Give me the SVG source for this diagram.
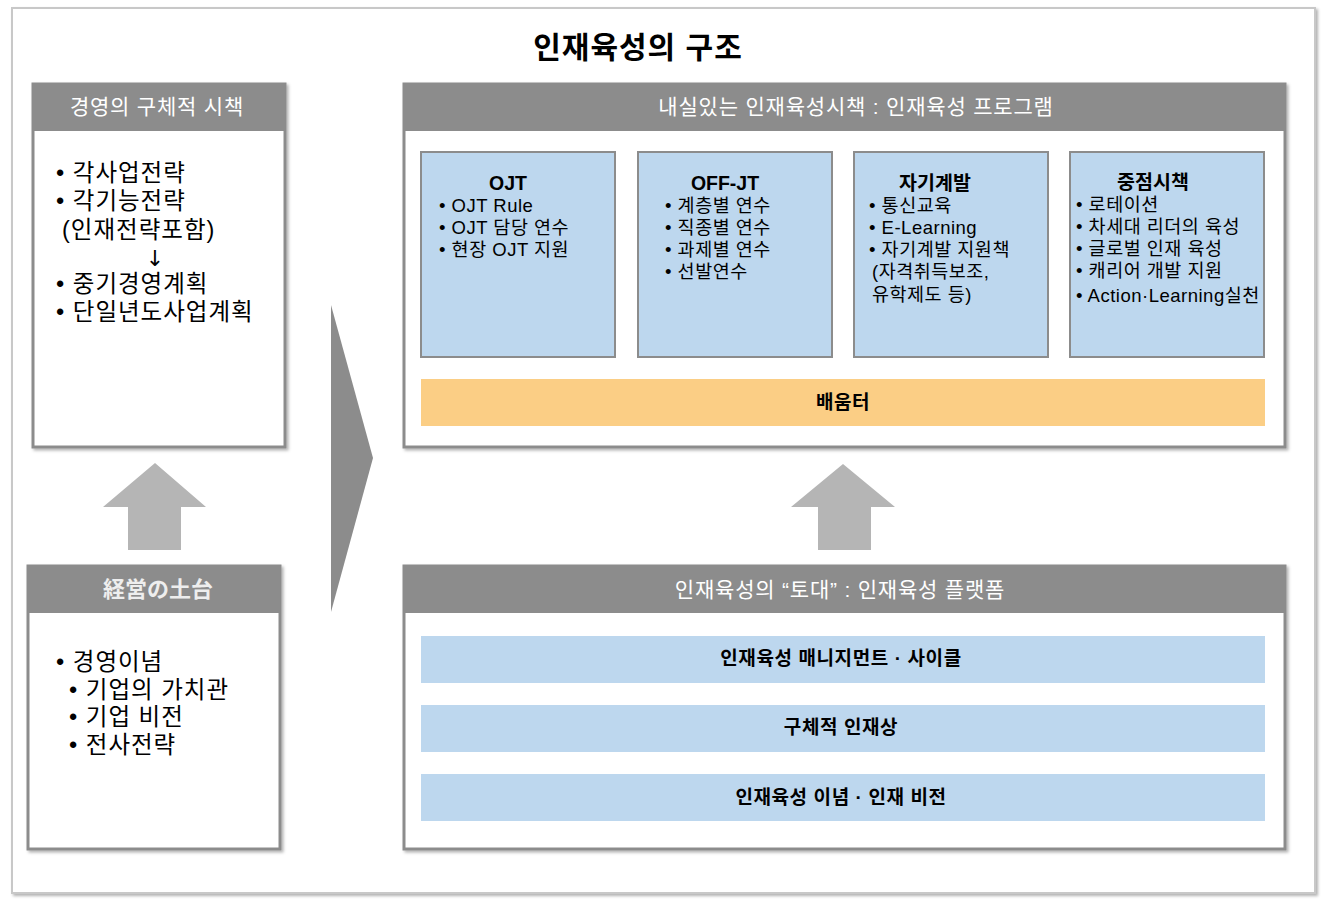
<svg xmlns="http://www.w3.org/2000/svg" width="1327" height="910" viewBox="0 0 1327 910">
<defs>
<filter id="sh" x="-5%" y="-5%" width="110%" height="110%">
<feDropShadow dx="2" dy="2" stdDeviation="1.5" flood-color="#000" flood-opacity="0.3"/>
</filter>
</defs>
<style>
text{font-family:"Liberation Sans","Noto Sans CJK KR",sans-serif;fill:#000}
.hdr{fill:#8c8c8c}
.box{fill:#fff;stroke:#8c8c8c;stroke-width:3}
.ht{fill:#fff;font-size:21px;letter-spacing:0.8px;text-anchor:middle}
.li{font-size:23.5px;letter-spacing:1px}
.blue{fill:#bdd7ee;stroke:#8c8c8c;stroke-width:2}
.bt{font-size:19.5px;font-weight:bold;text-anchor:middle}
.it{font-size:18.5px;letter-spacing:0.5px}
.bar{fill:#bdd7ee}
.bart{font-size:19px;font-weight:bold;letter-spacing:0.6px;text-anchor:middle}
.arr{fill:#b5b5b5}
</style>
<rect x="12" y="8" width="1303" height="885" fill="#fff" stroke="#c8c8c8" stroke-width="2" filter="url(#sh)"/>
<text x="638" y="58" font-size="30" font-weight="bold" letter-spacing="1" text-anchor="middle">인재육성의 구조</text>

<g id="left-top">
<rect class="box" x="33" y="84" width="252" height="363" filter="url(#sh)"/>
<rect class="hdr" x="32" y="84" width="254" height="47"/>
<text class="ht" x="157" y="114">경영의 구체적 시책</text>
<text class="li" x="56" y="181">• 각사업전략</text>
<text class="li" x="56" y="209">• 각기능전략</text>
<text class="li" x="62" y="238">(인재전략포함)</text>
<text x="155" y="266" font-size="22" text-anchor="middle" style="font-family:'DejaVu Sans',sans-serif;fill:#000">↓</text>
<text class="li" x="56" y="292">• 중기경영계획</text>
<text class="li" x="56" y="320">• 단일년도사업계획</text>
</g>

<g id="left-bottom">
<rect class="box" x="28" y="566" width="252" height="283" filter="url(#sh)"/>
<rect class="hdr" x="27" y="566" width="254" height="47"/>
<text x="158" y="597" font-size="22" font-weight="bold" text-anchor="middle" style="fill:#eee;font-family:'Noto Sans CJK JP',sans-serif">経営の土台</text>
<text class="li" x="56" y="670">• 경영이념</text>
<text class="li" x="69" y="698">• 기업의 가치관</text>
<text class="li" x="69" y="725">• 기업 비전</text>
<text class="li" x="69" y="753">• 전사전략</text>
</g>

<g id="right-top">
<rect class="box" x="404" y="84" width="881" height="363" filter="url(#sh)"/>
<rect class="hdr" x="403" y="84" width="883" height="47"/>
<text class="ht" x="856" y="114">내실있는 인재육성시책 : 인재육성 프로그램</text>
</g>

<g id="ojt">
<rect class="blue" x="421" y="152" width="194" height="205"/>
<text class="bt" x="508" y="190">OJT</text>
<text class="it" x="439" y="212">• OJT Rule</text>
<text class="it" x="439" y="234">• OJT 담당 연수</text>
<text class="it" x="439" y="256">• 현장 OJT 지원</text>
</g>
<g id="offjt">
<rect class="blue" x="638" y="152" width="194" height="205"/>
<text class="bt" x="725" y="190">OFF-JT</text>
<text class="it" x="665" y="212">• 계층별 연수</text>
<text class="it" x="665" y="234">• 직종별 연수</text>
<text class="it" x="665" y="256">• 과제별 연수</text>
<text class="it" x="665" y="278">• 선발연수</text>
</g>
<g id="self">
<rect class="blue" x="854" y="152" width="194" height="205"/>
<text class="bt" x="935" y="190">자기계발</text>
<text class="it" x="869" y="212">• 통신교육</text>
<text class="it" x="869" y="234">• E-Learning</text>
<text class="it" x="869" y="256">• 자기계발 지원책</text>
<text class="it" x="872" y="278">(자격취득보조,</text>
<text class="it" x="872" y="301">유학제도 등)</text>
</g>
<g id="focus">
<rect class="blue" x="1070" y="152" width="194" height="205"/>
<text class="bt" x="1153" y="189">중점시책</text>
<text class="it" x="1076" y="211">• 로테이션</text>
<text class="it" x="1076" y="233">• 차세대 리더의 육성</text>
<text class="it" x="1076" y="255">• 글로벌 인재 육성</text>
<text class="it" x="1076" y="277">• 캐리어 개발 지원</text>
<text class="it" x="1076" y="302" letter-spacing="0">• Action·Learning실천</text>
</g>
<g id="baeumteo">
<rect x="421" y="379" width="844" height="47" fill="#fbce85"/>
<text class="bart" x="843" y="409">배움터</text>
</g>

<g id="right-bottom">
<rect class="box" x="404" y="566" width="881" height="283" filter="url(#sh)"/>
<rect class="hdr" x="403" y="566" width="883" height="47"/>
<text class="ht" x="840" y="597">인재육성의 “토대” : 인재육성 플랫폼</text>
</g>
<g id="bar1">
<rect class="bar" x="421" y="636" width="844" height="47"/>
<text class="bart" x="841" y="665">인재육성 매니지먼트 · 사이클</text>
</g>
<g id="bar2">
<rect class="bar" x="421" y="705" width="844" height="47"/>
<text class="bart" x="841" y="734">구체적 인재상</text>
</g>
<g id="bar3">
<rect class="bar" x="421" y="774" width="844" height="47"/>
<text class="bart" x="841" y="804">인재육성 이념 · 인재 비전</text>
</g>

<g id="connectors">
<polygon class="arr" points="155,463 206,507 181,507 181,550 128,550 128,507 103,507"/>
<polygon class="arr" points="843,464 895,507 871,507 871,550 818,550 818,507 791,507"/>
<polygon fill="#8c8c8c" points="331,305 373,458 331,612"/>
</g>
</svg>
